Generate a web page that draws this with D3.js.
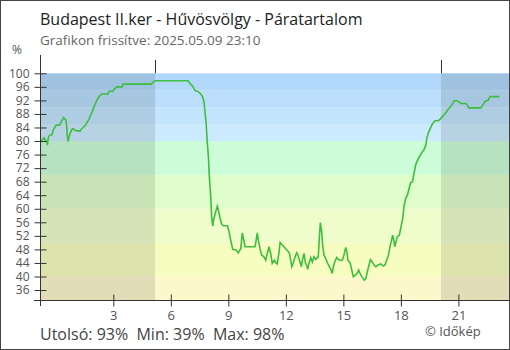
<!DOCTYPE html>
<html>
<head>
<meta charset="utf-8">
<script src="https://cdn.jsdelivr.net/npm/d3@7"></script>
<style>
  body { margin: 0; background: #fff; }
  text { font-family: "Open Sans", "Noto Sans", sans-serif; }
</style>
</head>
<body>
<div id="chart"></div>
<script>
// hours relative to 2025.05.09 00:00 (negative = previous evening)
var hours = [-0.81, -0.72, -0.61, -0.55, -0.47, -0.44, -0.39, -0.32, -0.20, -0.15, -0.06, 0.01, 0.20, 0.29, 0.41, 0.53, 0.57, 0.60, 0.65, 0.69, 0.76, 0.86, 0.93, 0.99, 1.12, 1.28, 1.33, 1.42, 1.54, 1.63, 1.73, 1.82, 1.90, 1.99, 2.08, 2.17, 2.27, 2.41, 2.72, 2.78, 2.98, 3.07, 3.18, 3.45, 3.51, 4.98, 5.07, 5.18,
  6.91, 7.00, 7.09, 7.17, 7.26, 7.43, 7.52, 7.64, 7.73, 7.78, 7.84, 7.90, 7.96, 8.01, 8.08, 8.13, 8.19, 8.22, 8.34, 8.43, 8.50, 8.57, 8.65, 8.74, 8.95, 9.04, 9.12, 9.23, 9.40, 9.52, 9.65, 9.73, 9.80, 9.87, 9.96,
  10.39, 10.44, 10.51, 10.56, 10.65, 10.74, 10.86, 10.95, 11.03, 11.12, 11.21, 11.29, 11.40, 11.49, 11.55, 11.64, 11.70, 11.82, 11.90, 12.05, 12.18, 12.27, 12.31, 12.39, 12.48, 12.57, 12.65, 12.74, 12.81, 12.88, 12.95, 13.02, 13.09, 13.14, 13.21, 13.30, 13.38, 13.47, 13.56, 13.69, 13.75, 13.80, 13.87, 13.92, 13.99, 14.04,
  14.10, 14.18, 14.27, 14.36, 14.42, 14.48, 14.55, 14.65, 14.74, 14.83, 14.95, 15.03, 15.12, 15.18, 15.24, 15.35, 15.40, 15.47, 15.52, 15.62, 15.73, 15.80, 15.87, 15.97, 16.09, 16.17, 16.25, 16.34, 16.41, 16.50, 16.60, 16.70, 16.82, 16.95, 17.08, 17.17, 17.26, 17.35, 17.43, 17.52, 17.57, 17.63, 17.68, 17.75, 17.81, 17.92,
  18.01, 18.10, 18.16, 18.25, 18.34, 18.43, 18.51, 18.60, 18.69, 18.77, 18.86, 18.95, 19.04, 19.12, 19.21, 19.30, 19.35, 19.43, 19.52, 19.61, 19.69, 19.78, 19.95, 20.04, 20.16, 20.30, 20.42, 20.56, 20.68, 20.79, 20.94, 21.05, 21.14, 21.40, 21.49, 21.54, 22.17, 22.27, 22.39, 22.56, 22.65, 23.14];

var humidity = [79.8, 80.3, 81.0, 80.3, 79.8, 78.8, 81.0, 81.8, 81.8, 83.0, 84.0, 84.7, 84.7, 85.7, 86.9, 86.2, 84.3, 81.3, 79.8, 81.3, 82.5, 83.6, 83.6, 83.2, 83.0, 83.0, 83.5, 84.0, 84.6, 85.5, 86.4, 87.7, 88.7, 90.0, 91.3, 92.3, 93.3, 93.9, 93.9, 94.7, 94.7, 95.4, 96.0, 96.0, 96.8, 96.8, 97.3, 97.8,
  97.8, 97.0, 96.5, 95.9, 94.9, 94.6, 94.1, 93.3, 91.6, 88.7, 85.4, 79.8, 75.4, 69.5, 63.6, 57.6, 54.9, 56.5, 59.1, 60.8, 59.1, 57.2, 55.5, 55.0, 55.0, 53.2, 50.8, 48.0, 47.8, 47.0, 48.3, 52.9, 51.0, 48.8, 48.8,
  48.8, 50.3, 52.9, 50.8, 48.3, 46.3, 45.8, 44.8, 46.8, 48.8, 46.8, 43.9, 44.8, 44.0, 43.7, 47.0, 50.0, 49.3, 48.8, 47.8, 47.0, 44.3, 42.9, 44.0, 45.8, 47.0, 46.0, 44.3, 42.9, 45.3, 46.8, 43.9, 43.4, 42.1, 44.0, 45.6, 44.3, 45.8, 45.0, 45.8, 51.7, 55.9, 53.2, 49.3, 46.3, 45.8,
  45.0, 43.9, 42.9, 41.9, 40.9, 42.9, 44.3, 45.6, 45.0, 44.8, 44.8, 46.3, 48.6, 47.3, 44.8, 44.0, 42.9, 41.1, 39.9, 40.4, 41.1, 41.9, 40.9, 39.9, 38.9, 39.4, 41.4, 43.4, 45.0, 44.3, 43.4, 42.9, 43.4, 43.7, 43.1, 43.4, 44.8, 46.3, 48.8, 50.8, 52.2, 50.8, 48.8, 50.3, 51.7, 52.2,
  54.7, 57.2, 60.6, 63.1, 64.0, 66.0, 67.7, 67.9, 70.5, 72.9, 74.2, 75.2, 76.1, 76.8, 77.5, 78.8, 80.8, 82.3, 83.5, 84.7, 85.4, 86.0, 86.0, 86.4, 87.2, 88.0, 89.0, 90.0, 90.9, 91.9, 91.9, 91.4, 91.1, 91.1, 90.3, 89.8, 89.8, 90.6, 91.7, 92.1, 93.1, 93.1];

// background bands (upper, lower limit in %) and their colours
var bandTops = [100, 95, 90, 85, 80, 70, 60, 50, 40];
var bandBottoms = [95, 90, 85, 80, 70, 60, 50, 40, 33];
var bandColors = ["#b2d8fb", "#badefb", "#c2e4fc", "#cbeafd", "#ccfcd8", "#e0fdcc", "#effdcc", "#f7fdc0", "#fdf7cc"];

// sunrise / sunset (hours)
var sunrise = 5.18, sunset = 20.09;

var yTicks = d3.range(36, 101, 4);
var xTicks = [3, 6, 9, 12, 15, 18, 21];

var W = 510, H = 350;

var svg = d3.select("#chart")
    .append("svg")
    .attr("width", W)
    .attr("height", H);

var x = d3.scaleLinear().domain([-0.824, 23.64]).range([40, 509]);
var y = d3.scaleLinear().domain([33, 100]).range([300.2, 73.3]);

// bands
svg.append("g")
    .selectAll("rect")
    .data(bandTops)
    .enter()
    .append("rect")
    .attr("x", x(-0.824))
    .attr("width", x(23.64) - x(-0.824))
    .attr("y", function (d) { return y(d); })
    .attr("height", function (d, i) { return y(bandBottoms[i]) - y(d); })
    .attr("fill", function (d, i) { return bandColors[i]; });

// night shading
var nights = [[-0.824, sunrise], [sunset, 23.64]];
svg.append("g")
    .selectAll("rect")
    .data(nights)
    .enter()
    .append("rect")
    .attr("x", function (d) { return x(d[0]); })
    .attr("width", function (d) { return x(d[1]) - x(d[0]); })
    .attr("y", y(100))
    .attr("height", y(33) - y(100))
    .attr("fill", "#000")
    .attr("opacity", 0.1);

// sunrise / sunset markers above the plot
svg.append("g")
    .selectAll("line")
    .data([sunrise, sunset])
    .enter()
    .append("line")
    .attr("x1", function (d) { return Math.round(x(d)) + 0.5; })
    .attr("x2", function (d) { return Math.round(x(d)) + 0.5; })
    .attr("y1", 60)
    .attr("y2", y(100))
    .attr("stroke", "#333");

// line
var pts = hours.map(function (h, i) { return [h, humidity[i]]; });
svg.append("path")
    .datum(pts)
    .attr("fill", "none")
    .attr("stroke", "#3dbf3d")
    .attr("stroke-width", 1.6)
    .attr("d", d3.line()
        .x(function (d) { return x(d[0]); })
        .y(function (d) { return y(d[1]); }));

// Y axis
var yAxis = svg.append("g")
    .attr("transform", "translate(40.5,0)")
    .call(d3.axisLeft(y).tickValues(yTicks).tickSize(6).tickSizeOuter(0).tickPadding(10));
yAxis.select(".domain").remove();
yAxis.selectAll(".tick line").attr("x2", 6).attr("x1", -6).attr("stroke", "#333");
yAxis.selectAll("text").attr("fill", "#555").style("font-size", "12px").attr("x", -11);
svg.append("line")
    .attr("x1", 40.5).attr("x2", 40.5)
    .attr("y1", 55).attr("y2", 306)
    .attr("stroke", "#333");

// X axis
var xAxis = svg.append("g")
    .attr("transform", "translate(0,300.5)")
    .call(d3.axisBottom(x).tickValues(xTicks).tickSizeOuter(0).tickPadding(4));
xAxis.select(".domain").remove();
xAxis.selectAll(".tick line").attr("y1", -6).attr("y2", 6).attr("stroke", "#333");
xAxis.selectAll("text").attr("fill", "#555").style("font-size", "13px");
svg.append("line")
    .attr("x1", 34).attr("x2", 509)
    .attr("y1", 300.5).attr("y2", 300.5)
    .attr("stroke", "#333");

svg.append("text")
    .attr("x", 17).attr("y", 54)
    .attr("text-anchor", "middle")
    .attr("fill", "#555")
    .style("font-size", "12px")
    .text("%");

// titles
svg.append("text")
    .attr("x", 40).attr("y", 25)
    .attr("fill", "#222")
    .style("font-size", "16px")
    .text("Budapest II.ker - Hűvösvölgy - Páratartalom");
svg.append("text")
    .attr("x", 40).attr("y", 45)
    .attr("fill", "#666")
    .style("font-size", "13.5px")
    .text("Grafikon frissítve: 2025.05.09 23:10");

// footer
svg.append("text")
    .attr("x", 40).attr("y", 340)
    .attr("fill", "#444")
    .style("font-size", "16px")
    .attr("xml:space", "preserve")
    .text("Utolsó: 93%  Min: 39%  Max: 98%");
svg.append("text")
    .attr("x", 425).attr("y", 336)
    .attr("fill", "#555")
    .style("font-size", "13px")
    .text("© Időkép");

// border
svg.append("rect")
    .attr("x", 0.5).attr("y", 0.5)
    .attr("width", W - 1).attr("height", H - 1)
    .attr("fill", "none")
    .attr("stroke", "#444");
</script>
</body>
</html>
